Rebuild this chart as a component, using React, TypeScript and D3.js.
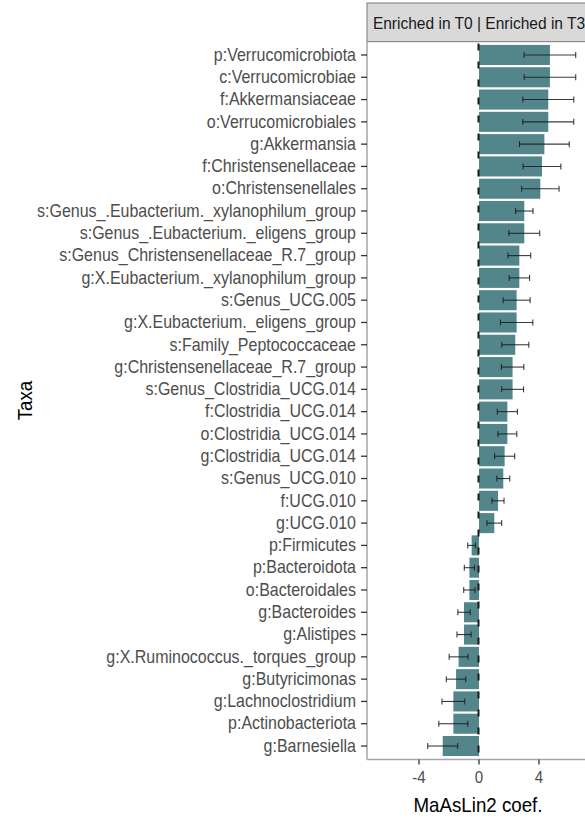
import React from "react";
import * as d3 from "d3";

const taxa = [
  "p:Verrucomicrobiota",
  "c:Verrucomicrobiae",
  "f:Akkermansiaceae",
  "o:Verrucomicrobiales",
  "g:Akkermansia",
  "f:Christensenellaceae",
  "o:Christensenellales",
  "s:Genus_.Eubacterium._xylanophilum_group",
  "s:Genus_.Eubacterium._eligens_group",
  "s:Genus_Christensenellaceae_R.7_group",
  "g:X.Eubacterium._xylanophilum_group",
  "s:Genus_UCG.005",
  "g:X.Eubacterium._eligens_group",
  "s:Family_Peptococcaceae",
  "g:Christensenellaceae_R.7_group",
  "s:Genus_Clostridia_UCG.014",
  "f:Clostridia_UCG.014",
  "o:Clostridia_UCG.014",
  "g:Clostridia_UCG.014",
  "s:Genus_UCG.010",
  "f:UCG.010",
  "g:UCG.010",
  "p:Firmicutes",
  "p:Bacteroidota",
  "o:Bacteroidales",
  "g:Bacteroides",
  "g:Alistipes",
  "g:X.Ruminococcus._torques_group",
  "g:Butyricimonas",
  "g:Lachnoclostridium",
  "p:Actinobacteriota",
  "g:Barnesiella",
];

const coef = [
  4.73, 4.73, 4.62, 4.62, 4.36, 4.2, 4.09, 3.02, 3.02, 2.69, 2.69, 2.51, 2.51,
  2.42, 2.24, 2.24, 1.89, 1.89, 1.71, 1.62, 1.27, 1.02, -0.49, -0.64, -0.64,
  -1.0, -1.0, -1.36, -1.53, -1.71, -1.71, -2.42,
];

const stderr = [
  1.72, 1.72, 1.7, 1.7, 1.66, 1.26, 1.25, 0.58, 1.03, 0.76, 0.68, 0.9, 1.08,
  0.9, 0.75, 0.73, 0.67, 0.63, 0.67, 0.43, 0.4, 0.49, 0.26, 0.34, 0.38, 0.41,
  0.47, 0.63, 0.65, 0.76, 0.97, 1.0,
];

const xTicks = [-4, 0, 4];
const xLimit = 6.79;
const stripLabel = "Enriched in T0 | Enriched in T3";
const xTitle = "MaAsLin2 coef.";
const yTitle = "Taxa";

const W = 585;
const H = 819;
const panelLeft = 367;
const panelRight = 591;
const panelTop = 41.6;
const panelBottom = 759.4;
const stripTop = 3;

export default function App() {
  const expand = xLimit * 2 * 0.05;
  const x = d3
    .scaleLinear()
    .domain([-xLimit - expand, xLimit + expand])
    .range([panelLeft, panelRight]);
  const y = d3
    .scalePoint<string>()
    .domain(taxa)
    .range([panelTop, panelBottom])
    .padding(0.6);
  const step = y.step();
  const barH = step * 0.9;
  const font = "'Liberation Sans', Arial, sans-serif";
  const narrow = 0.914;

  return (
    <svg
      width={W}
      height={H}
      style={{ position: "absolute", left: 0, top: 0, background: "#fff" }}
    >
      {/* strip */}
      <rect
        x={panelLeft}
        y={stripTop}
        width={panelRight - panelLeft}
        height={panelTop - stripTop}
        fill="#D9D9D9"
        stroke="#8C8C8C"
        strokeWidth={1.2}
      />
      <text
        transform={`translate(${(panelLeft + panelRight) / 2}, ${(stripTop + panelTop) / 2}) scale(${narrow},1)`}
        textAnchor="middle"
        dominantBaseline="central"
        fontFamily={font}
        fontSize={17}
        fill="#1A1A1A"
      >
        {stripLabel}
      </text>

      {/* bars */}
      {taxa.map((t, i) => {
        const v = coef[i];
        const x0 = x(Math.min(0, v));
        const x1 = x(Math.max(0, v));
        return (
          <rect
            key={"b" + t}
            x={x0}
            y={(y(t) as number) - barH / 2}
            width={x1 - x0}
            height={barH}
            fill="#53868B"
          />
        );
      })}

      {/* error bars */}
      {taxa.map((t, i) => {
        const cy = y(t) as number;
        const lo = x(coef[i] - stderr[i]);
        const hi = x(coef[i] + stderr[i]);
        const cap = 3;
        return (
          <g key={"e" + t} stroke="#1a1a1a" strokeWidth={1.1} strokeOpacity={0.85}>
            <line x1={lo} x2={hi} y1={cy} y2={cy} />
            <line x1={lo} x2={lo} y1={cy - cap} y2={cy + cap} />
            <line x1={hi} x2={hi} y1={cy - cap} y2={cy + cap} />
          </g>
        );
      })}

      {/* dashed zero line */}
      <line
        x1={x(0) - 0.5}
        x2={x(0) - 0.5}
        y1={panelTop}
        y2={panelBottom}
        stroke="#1a1a1a"
        strokeWidth={2}
        strokeDasharray="7 11"
        strokeDashoffset={-2}
      />

      {/* axes lines */}
      <line
        x1={panelLeft}
        x2={panelLeft}
        y1={panelTop}
        y2={panelBottom}
        stroke="#A6A6A6"
        strokeWidth={1.5}
      />
      <line
        x1={panelLeft}
        x2={panelRight}
        y1={panelBottom}
        y2={panelBottom}
        stroke="#A6A6A6"
        strokeWidth={1.5}
      />

      {/* y ticks and labels */}
      {taxa.map((t) => {
        const cy = y(t) as number;
        return (
          <g key={"y" + t}>
            <line
              x1={panelLeft - 6}
              x2={panelLeft}
              y1={cy}
              y2={cy}
              stroke="#333"
              strokeWidth={1.3}
            />
            <text
              transform={`translate(${panelLeft - 11}, ${cy}) scale(${narrow},1)`}
              textAnchor="end"
              dominantBaseline="central"
              fontFamily={font}
              fontSize={17.5}
              fill="#4D4D4D"
            >
              {t}
            </text>
          </g>
        );
      })}

      {/* x ticks */}
      {xTicks.map((v) => (
        <g key={"x" + v}>
          <line
            x1={x(v)}
            x2={x(v)}
            y1={panelBottom}
            y2={panelBottom + 5}
            stroke="#333"
            strokeWidth={1.3}
          />
          <text
            transform={`translate(${x(v)}, ${panelBottom + 18}) scale(${narrow},1)`}
            textAnchor="middle"
            dominantBaseline="central"
            fontFamily={font}
            fontSize={16.5}
            fill="#4D4D4D"
          >
            {v}
          </text>
        </g>
      ))}

      {/* titles */}
      <text
        transform={`translate(${(panelLeft + panelRight) / 2 - 1}, 805) scale(${narrow},1)`}
        textAnchor="middle"
        dominantBaseline="central"
        fontFamily={font}
        fontSize={20.5}
        fill="#000"
      >
        {xTitle}
      </text>
      <text
        transform={`translate(25, ${(panelTop + panelBottom) / 2}) rotate(-90) scale(${narrow},1)`}
        textAnchor="middle"
        dominantBaseline="central"
        fontFamily={font}
        fontSize={20.5}
        fill="#000"
      >
        {yTitle}
      </text>
    </svg>
  );
}
